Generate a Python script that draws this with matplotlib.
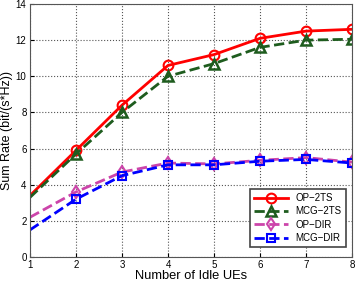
import matplotlib.pyplot as plt

x = [1, 2, 3, 4, 5, 6, 7, 8]
op_2ts = [3.4, 5.9, 8.4, 10.6, 11.2, 12.1, 12.5, 12.6]
mcg_2ts = [3.3, 5.7, 8.0, 10.0, 10.7, 11.6, 12.0, 12.05]
op_dir = [2.2, 3.6, 4.7, 5.2, 5.15, 5.35, 5.5, 5.25]
mcg_dir = [1.5, 3.2, 4.5, 5.1, 5.1, 5.3, 5.4, 5.2]

plt.rcParams['font.family'] = ['Liberation Sans', 'DejaVu Sans']
fig = plt.figure(figsize=(3.6, 2.83), dpi=100)
ax = fig.add_axes([30 / 360, 1 - 257 / 283, 322 / 360, 253 / 283])

mk = list(range(1, 8))
ax.plot(x, op_2ts, '-', color='red', lw=2, marker='o', ms=7, mfc='none', mew=1.5, markevery=mk, label='OP\u22122TS')
ax.plot(x, mcg_2ts, '--', color='#1e5c1e', lw=2, marker='^', ms=7, mfc='none', mew=1.8, markevery=mk, label='MCG\u22122TS')
ax.plot(x, op_dir, '--', color='#cc44aa', lw=2, marker='d', ms=6, mfc='none', mew=1.5, markevery=mk, label='OP\u2212DIR')
ax.plot(x, mcg_dir, '--', color='blue', lw=2, marker='s', ms=6, mfc='none', mew=1.5, markevery=mk, label='MCG\u2212DIR')

ax.set_xlim(1, 8)
ax.set_ylim(0, 14)
ax.set_xticks(x)
ax.set_yticks(range(0, 15, 2))
ax.grid(True, linestyle=':', color='#555555', lw=0.8)
ax.tick_params(labelsize=7, direction='in', length=3, pad=2.5)
for s in ax.spines.values():
    s.set_color('#555555')
ax.set_xlabel('Number of Idle UEs', fontsize=9.3)
ax.set_ylabel('Sum Rate (bit/(s*Hz))', fontsize=9)
ax.xaxis.set_label_coords(0.5, -0.05)
ax.yaxis.set_label_coords(-0.054, 0.5)

leg = ax.legend(loc='lower right', fontsize=7, fancybox=False, framealpha=1, edgecolor='#444444', handlelength=3.5, borderpad=0.4, labelspacing=0.35, bbox_to_anchor=(0.995, 0.02))
leg.get_frame().set_linewidth(1.2)

fig.savefig('out.png', dpi=100)
